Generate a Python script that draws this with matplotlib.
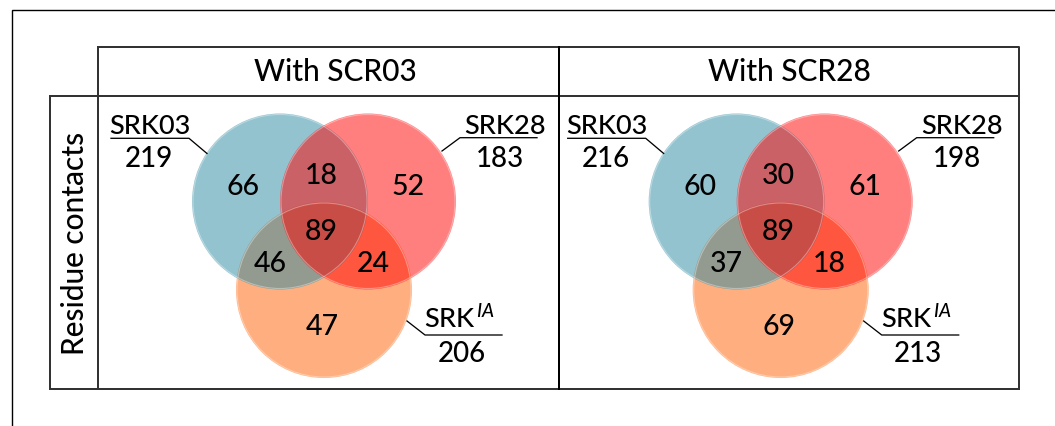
import matplotlib
matplotlib.use("Agg")
import matplotlib.pyplot as plt
from matplotlib.patches import Circle

# ---------------- data ----------------
panel_titles = ["With SCR03", "With SCR28"]
row_label = "Residue contacts"
set_names = ["SRK03", "SRK28", "SRK$^{\\,IA}$"]
set_totals_scr03 = [219, 183, 206]
set_totals_scr28 = [216, 198, 213]
# regions: only03, 03&28, only28, all three, 03&IA, 28&IA, onlyIA
region_keys = ["100", "110", "010", "111", "101", "011", "001"]
region_counts_scr03 = [66, 18, 52, 89, 46, 24, 47]
region_counts_scr28 = [60, 30, 61, 89, 37, 18, 69]

set_totals = [set_totals_scr03, set_totals_scr28]
region_counts = [region_counts_scr03, region_counts_scr28]

# ---------------- style ----------------
plt.rcParams['font.family'] = ['Lato', 'DejaVu Sans']
plt.rcParams['font.weight'] = 'medium'
plt.rcParams['mathtext.fontset'] = 'custom'
plt.rcParams['mathtext.rm'] = 'Lato:medium'
plt.rcParams['mathtext.it'] = 'Lato:italic:medium'

W, H = 1055, 426
fig = plt.figure(figsize=(W / 100, H / 100), dpi=100)
ax = fig.add_axes([0, 0, 1, 1])
ax.set_xlim(0, W)
ax.set_ylim(H, 0)
ax.set_aspect('equal')
ax.axis('off')

PT = 0.72  # px -> pt

# outer frame (top + left)
ax.plot([11.5, 11.5, W + 5], [H + 5, 9.5, 9.5], color='black', lw=1.4 * PT,
        solid_joinstyle='miter')

box_c = '#333333'
box_lw = 2.0 * PT
ax.plot([97.5, 1018.7, 1018.7], [46.5, 46.5, 388.5], color=box_c, lw=box_lw)
ax.plot([97.5, 97.5], [46.5, 388.5], color=box_c, lw=box_lw)
ax.plot([50, 1018.7], [96, 96], color=box_c, lw=box_lw)
ax.plot([50, 1018.7], [388.5, 388.5], color=box_c, lw=box_lw)
ax.plot([50, 50], [96, 388.5], color=box_c, lw=box_lw)
ax.plot([558.5, 558.5], [46.5, 388.5], color='black', lw=box_lw)

# titles
title_x = [335, 789]
for tx, t in zip(title_x, panel_titles):
    ax.text(tx, 72, t, ha='center', va='center', fontsize=21.5)
ax.text(75, 243, row_label, ha='center', va='center', rotation=90, fontsize=21.5)

# venn geometry
group_cx = [324, 780.7]
R = 88
circle_off = {"blue": (-44, 201.5), "red": (44, 201.5), "orange": (0, 290)}
circle_col = {"blue": '#2989A1', "red": '#FF0000', "orange": '#FF6100'}
draw_order = ["orange", "blue", "red"]

region_pos = {"100": (-81, 187), "110": (-2.5, 176), "010": (84, 187),
              "111": (-2.5, 232), "101": (-54, 264), "011": (49, 264),
              "001": (-2, 327)}

label_layout = [
    dict(name=(-174, 134), total=(-175, 167), ul=(-213, -135, 138.3), lead=(-117, 153.5)),
    dict(name=(181, 134), total=(176, 167), ul=(136, 213, 137.7), lead=(118, 151)),
    dict(name=(135.5, 328), total=(137.5, 361.5), ul=(101, 178, 335), lead=(83, 321)),
]

for p in range(2):
    cx = group_cx[p]
    for key in draw_order:
        dx, cy = circle_off[key]
        ax.add_patch(Circle((cx + dx, cy), R, facecolor=circle_col[key],
                            alpha=0.5, edgecolor='none', zorder=2))
        ax.add_patch(Circle((cx + dx, cy), R - 1, facecolor='none',
                            edgecolor=(1, 1, 1, 0.35), lw=0.8, zorder=3))
    for k, v in zip(region_keys, region_counts[p]):
        dx, y = region_pos[k]
        ax.text(cx + dx, y, str(v), ha='center', va='center', fontsize=20.5, zorder=5)
    for i, lay in enumerate(label_layout):
        nx, ny = lay['name']
        ax.text(cx + nx, ny, set_names[i], ha='center', va='baseline', fontsize=19.5, zorder=5)
        tx, ty = lay['total']
        ax.text(cx + tx, ty, str(set_totals[p][i]), ha='center', va='baseline',
                fontsize=20, zorder=5)
        x0, x1, uy = lay['ul']
        lx, ly = lay['lead']
        if i == 0:
            xs, ys = [cx + x0, cx + x1, cx + lx], [uy, uy, ly]
        else:
            xs, ys = [cx + x1, cx + x0, cx + lx], [uy, uy, ly]
        ax.plot(xs, ys, color='black', lw=1.3 * PT, zorder=4)

fig.savefig('out.png', dpi=100)
